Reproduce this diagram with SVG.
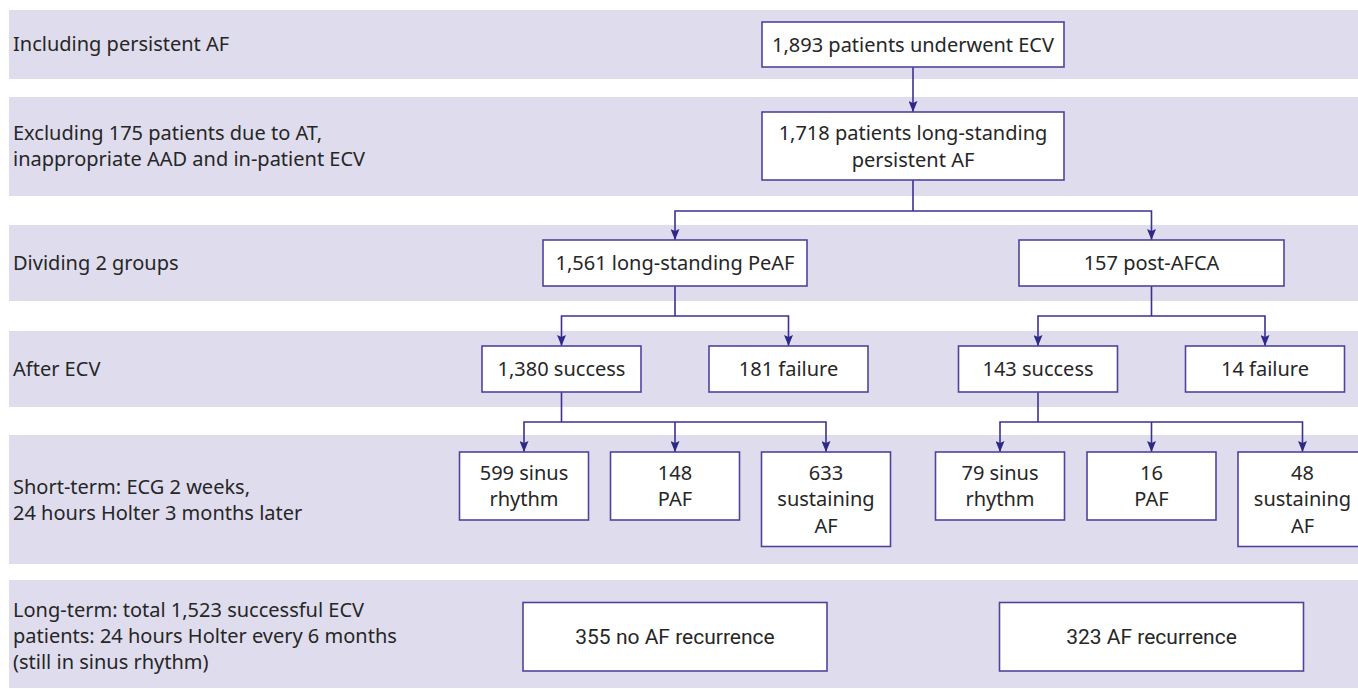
<svg xmlns="http://www.w3.org/2000/svg" width="1358" height="689" viewBox="0 0 1358 689">
<style>
.band{fill:#dfdded}
.box{fill:#ffffff;stroke:#4f449d;stroke-width:1.6}
.lbl{font-family:"Noto Sans","Liberation Sans",sans-serif;font-size:20px;fill:#262626}
.c{text-anchor:middle}
.lt{font-family:Roboto,"Liberation Sans",sans-serif;font-size:21px;fill:#262626;text-anchor:middle}
.con{fill:none;stroke:#3b3290;stroke-width:1.6}
</style>
<defs>
<marker id="ah" markerUnits="userSpaceOnUse" markerWidth="11" markerHeight="9" refX="11" refY="4.5" orient="auto-start-reverse" viewBox="0 0 11 9">
<path d="M0,0 L11,4.5 L0,9 L2,4.5 Z" fill="#2e2889"/>
</marker>
</defs>
<g id="bands">
<rect class="band" x="9" y="10" width="1349" height="69"/>
<rect class="band" x="9" y="97" width="1349" height="99"/>
<rect class="band" x="9" y="225" width="1349" height="76"/>
<rect class="band" x="9" y="331" width="1349" height="76"/>
<rect class="band" x="9" y="435" width="1349" height="129"/>
<rect class="band" x="9" y="580" width="1349" height="108"/>
</g>
<g id="band-labels">
<text class="lbl" x="13" y="51">Including persistent AF</text>
<text class="lbl" x="13" y="140">Excluding 175 patients due to AT,</text>
<text class="lbl" x="13" y="166">inappropriate AAD and in-patient ECV</text>
<text class="lbl" x="13" y="270">Dividing 2 groups</text>
<text class="lbl" x="13" y="376">After ECV</text>
<text class="lbl" x="13" y="494">Short-term: ECG 2 weeks,</text>
<text class="lbl" x="13" y="520">24 hours Holter 3 months later</text>
<text class="lbl" x="13" y="617">Long-term: total 1,523 successful ECV</text>
<text class="lbl" x="13" y="643">patients: 24 hours Holter every 6 months</text>
<text class="lbl" x="13" y="669">(still in sinus rhythm)</text>
</g>
<g id="connectors">
<line class="con" x1="913" y1="67" x2="913" y2="112" marker-end="url(#ah)"/>
<polyline class="con" points="913,180 913,211"/>
<polyline class="con" points="675,240 675,211 1151.5,211 1151.5,240" marker-start="url(#ah)" marker-end="url(#ah)"/>
<polyline class="con" points="675,286 675,316"/>
<polyline class="con" points="561.5,346 561.5,316 788.5,316 788.5,346" marker-start="url(#ah)" marker-end="url(#ah)"/>
<polyline class="con" points="1151.5,286 1151.5,316"/>
<polyline class="con" points="1038,346 1038,316 1265,316 1265,346" marker-start="url(#ah)" marker-end="url(#ah)"/>
<polyline class="con" points="561.5,392 561.5,422"/>
<polyline class="con" points="524,452 524,422 826,422 826,452" marker-start="url(#ah)" marker-end="url(#ah)"/>
<line class="con" x1="675" y1="422" x2="675" y2="452" marker-end="url(#ah)"/>
<polyline class="con" points="1038,392 1038,422"/>
<polyline class="con" points="1000,452 1000,422 1302.5,422 1302.5,452" marker-start="url(#ah)" marker-end="url(#ah)"/>
<line class="con" x1="1151.5" y1="422" x2="1151.5" y2="452" marker-end="url(#ah)"/>
</g>
<g id="n1893"><rect class="box" x="762" y="22" width="302" height="45"/><text class="lbl c" x="913" y="51.5">1,893 patients underwent ECV</text></g>
<g id="n1718"><rect class="box" x="762" y="112" width="302" height="68"/><text class="lbl c" x="913" y="140">1,718 patients long-standing</text><text class="lbl c" x="913" y="166.5">persistent AF</text></g>
<g id="n1561"><rect class="box" x="543" y="240" width="264" height="46"/><text class="lbl c" x="675" y="270">1,561 long-standing PeAF</text></g>
<g id="n157"><rect class="box" x="1019" y="240" width="265" height="46"/><text class="lbl c" x="1151.5" y="270">157 post-AFCA</text></g>
<g id="n1380"><rect class="box" x="482" y="346" width="159" height="46"/><text class="lbl c" x="561.5" y="376">1,380 success</text></g>
<g id="n181"><rect class="box" x="709" y="346" width="159" height="46"/><text class="lbl c" x="788.5" y="376">181 failure</text></g>
<g id="n143"><rect class="box" x="958.5" y="346" width="159" height="46"/><text class="lbl c" x="1038" y="376">143 success</text></g>
<g id="n14"><rect class="box" x="1185.5" y="346" width="159" height="46"/><text class="lbl c" x="1265" y="376">14 failure</text></g>
<g id="n599"><rect class="box" x="459.5" y="452" width="129" height="68"/><text class="lbl c" x="524" y="479.5">599 sinus</text><text class="lbl c" x="524" y="506">rhythm</text></g>
<g id="n148"><rect class="box" x="610.5" y="452" width="129" height="68"/><text class="lbl c" x="675" y="479.5">148</text><text class="lbl c" x="675" y="506">PAF</text></g>
<g id="n633"><rect class="box" x="761.5" y="452" width="129" height="94.5"/><text class="lbl c" x="826" y="479.5">633</text><text class="lbl c" x="826" y="506">sustaining</text><text class="lbl c" x="826" y="532.5">AF</text></g>
<g id="n79"><rect class="box" x="935.5" y="452" width="129" height="68"/><text class="lbl c" x="1000" y="479.5">79 sinus</text><text class="lbl c" x="1000" y="506">rhythm</text></g>
<g id="n16"><rect class="box" x="1087" y="452" width="129" height="68"/><text class="lbl c" x="1151.5" y="479.5">16</text><text class="lbl c" x="1151.5" y="506">PAF</text></g>
<g id="n48"><rect class="box" x="1238" y="452" width="129" height="94.5"/><text class="lbl c" x="1302.5" y="479.5">48</text><text class="lbl c" x="1302.5" y="506">sustaining</text><text class="lbl c" x="1302.5" y="532.5">AF</text></g>
<g id="n355"><rect class="box" x="523" y="602.5" width="304" height="68.5"/><text class="lt" x="675" y="644">355 no AF recurrence</text></g>
<g id="n323"><rect class="box" x="999.5" y="602.5" width="304" height="68.5"/><text class="lt" x="1151.5" y="644">323 AF recurrence</text></g>
</svg>
